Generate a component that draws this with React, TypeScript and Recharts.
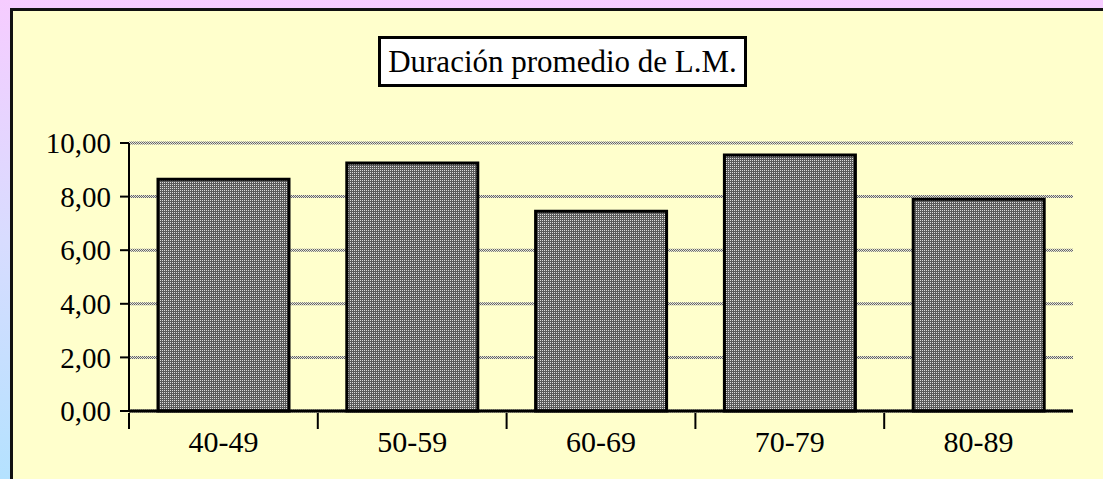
import { BarChart, Bar, XAxis, YAxis, CartesianGrid } from 'recharts';

const categories = ['40-49', '50-59', '60-69', '70-79', '80-89'];
const durations = [8.65, 9.25, 7.45, 9.55, 7.9];
const yTicks = [0, 2, 4, 6, 8, 10];

const data = categories.map((name, i) => ({ name, value: durations[i] }));

const W = 1103;
const H = 479;
const PLOT_LEFT = 129;
const PLOT_RIGHT = 1073;
const FONT = '"Liberation Serif", "Times New Roman", serif';
const band = (PLOT_RIGHT - PLOT_LEFT) / categories.length;

// category labels centred, tick marks on the boundaries like the old Excel chart
function CategoryTick(props: any) {
  const { x, y, payload } = props;
  const left = x - band / 2;
  return (
    <g>
      <line x1={left} y1={y - 6} x2={left} y2={y + 10} stroke="#000" strokeWidth={2} />
      <text x={x} y={y + 33} textAnchor="middle" fontSize={30} fontFamily={FONT} fill="#000">
        {payload.value}
      </text>
    </g>
  );
}

export default function App() {
  return (
    <div
      style={{
        position: 'absolute',
        left: 0,
        top: 0,
        width: W,
        height: H,
        overflow: 'hidden',
        background: 'linear-gradient(to bottom, #f6ccff 0%, #d8dcff 50%, #b4e2ff 100%)',
      }}
    >
      {/* yellow panel */}
      <div
        style={{
          position: 'absolute',
          left: 10,
          top: 8,
          width: W,
          height: H,
          background: '#ffffcc',
          borderLeft: '3px solid #111',
          borderTop: '3px solid #111',
        }}
      />

      {/* title box */}
      <div
        style={{
          position: 'absolute',
          left: 378,
          top: 36,
          width: 369,
          height: 51,
          boxSizing: 'border-box',
          background: '#fff',
          border: '3px solid #000',
          fontFamily: FONT,
          fontSize: 31,
          lineHeight: '45px',
          textAlign: 'center',
          color: '#000',
        }}
      >
        Duración promedio de L.M.
      </div>

      <div style={{ position: 'absolute', left: 0, top: 0 }}>
        <BarChart
          width={W}
          height={H}
          data={data}
          margin={{ top: 143, right: W - PLOT_RIGHT, left: PLOT_LEFT - 90, bottom: H - 411 - 50 }}
          barSize={131}
        >
          <defs>
            <pattern id="dots" width="2" height="2" patternUnits="userSpaceOnUse">
              <rect width="2" height="2" fill="#5a5a5a" />
              <rect x="0" y="0" width="1" height="1" fill="#dcdcdc" />
            </pattern>
            <pattern id="gridDots" width="2" height="2" patternUnits="userSpaceOnUse">
              <rect width="2" height="2" fill="#e4e4d8" />
              <rect x="0" y="0" width="1" height="1" fill="#666" />
              <rect x="1" y="1" width="1" height="1" fill="#666" />
            </pattern>
          </defs>
          <CartesianGrid vertical={false} stroke="url(#gridDots)" strokeWidth={3} />
          <XAxis
            dataKey="name"
            height={50}
            axisLine={{ stroke: '#000', strokeWidth: 3 }}
            tickLine={false}
            tick={<CategoryTick />}
            interval={0}
          />
          <YAxis
            width={90}
            domain={[0, 10]}
            ticks={yTicks}
            interval={0}
            tickFormatter={(v: number) => v.toFixed(2).replace('.', ',')}
            axisLine={{ stroke: '#000', strokeWidth: 2 }}
            tickLine={{ stroke: '#000', strokeWidth: 2 }}
            tickSize={9}
            tickMargin={9}
            tick={{ fontSize: 29, fontFamily: FONT, fill: '#000' }}
          />
          <Bar dataKey="value" fill="url(#dots)" stroke="#000" strokeWidth={3} isAnimationActive={false} />
        </BarChart>
      </div>
    </div>
  );
}
